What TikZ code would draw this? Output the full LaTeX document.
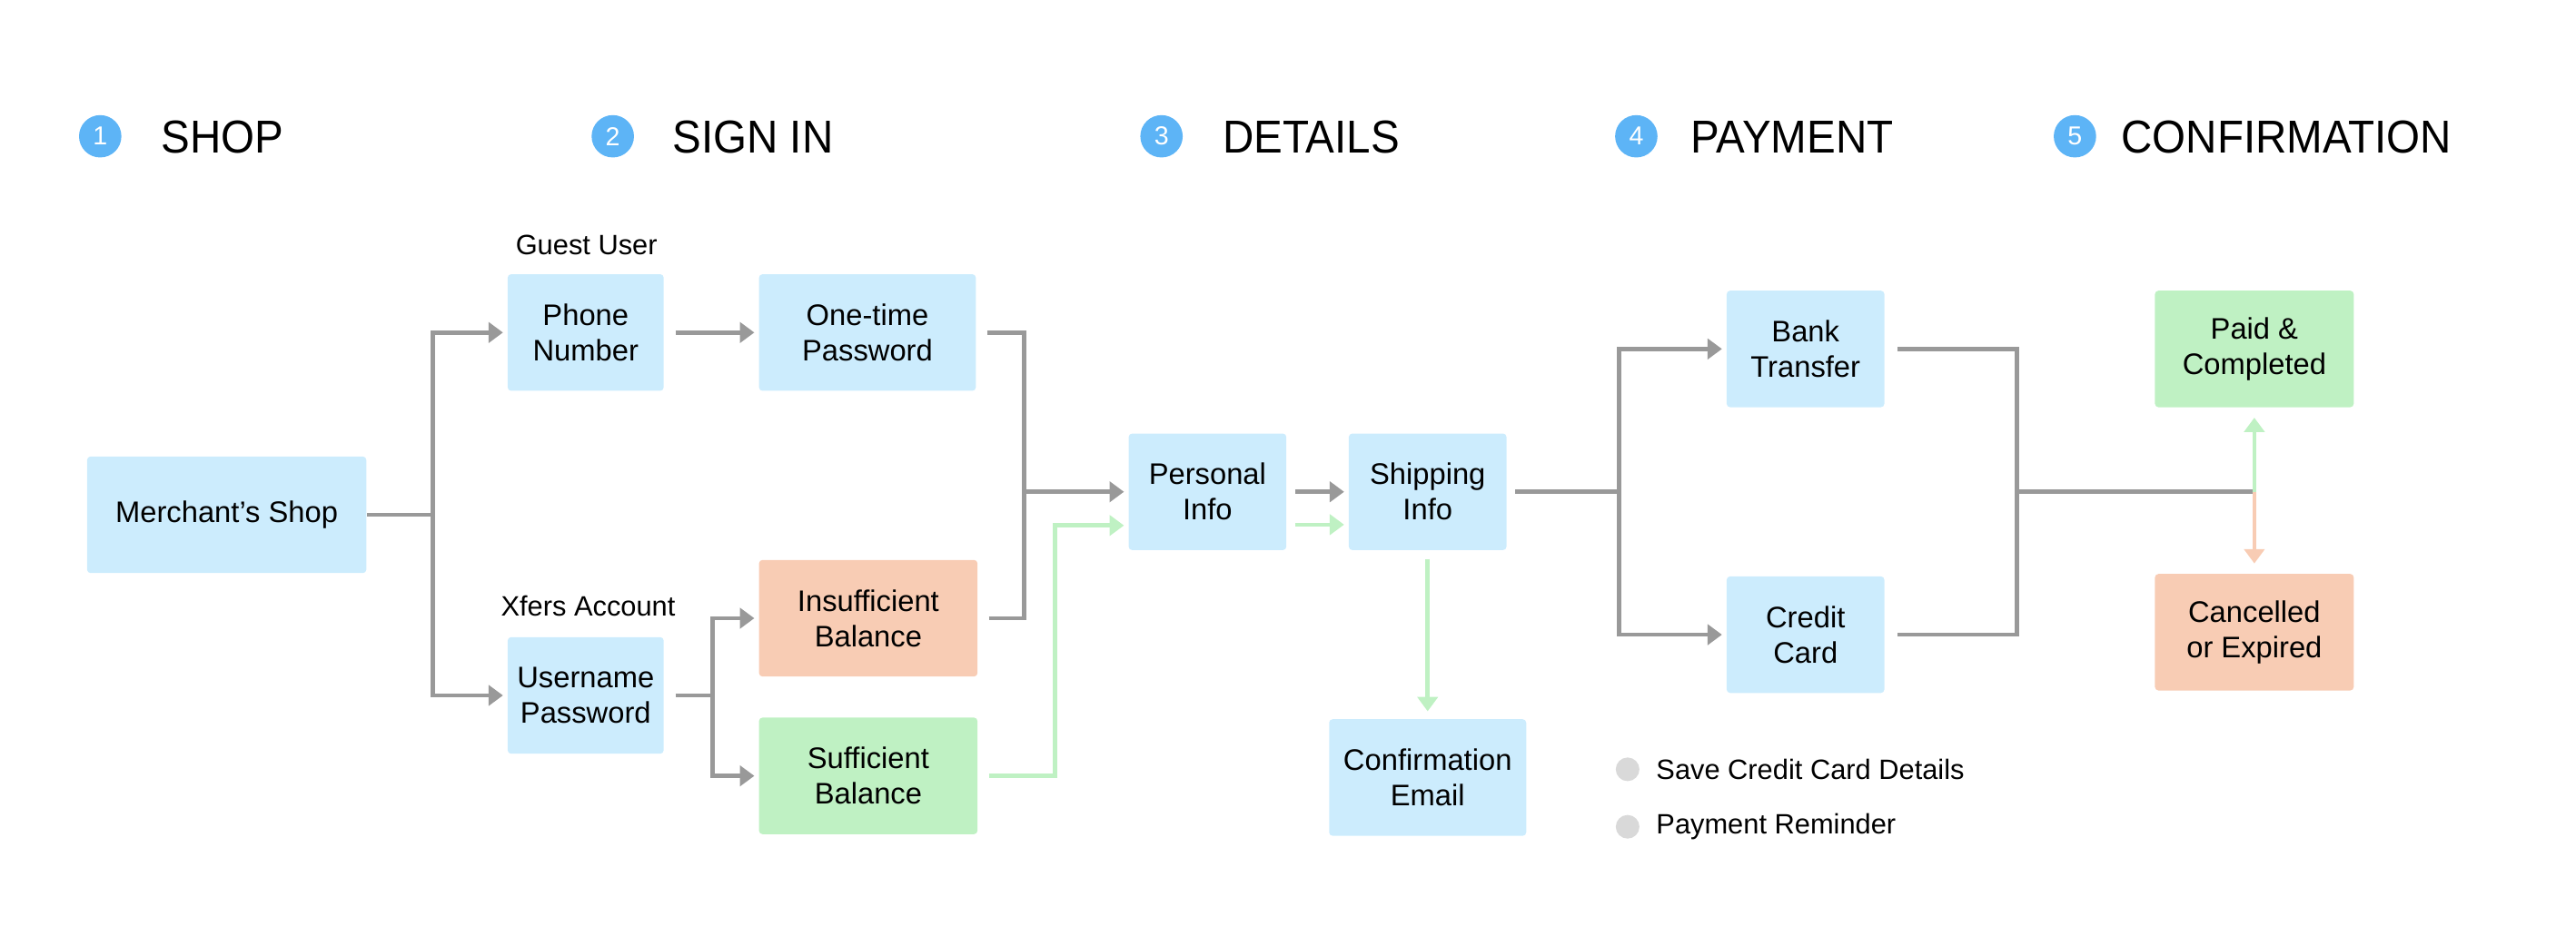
\documentclass[tikz,border=0pt]{standalone}
\usepackage{fontspec}
\setmainfont{Liberation Sans}
\newfontfamily\headfont{Liberation Sans}[FakeStretch=0.935]
\usetikzlibrary{arrows.meta,calc}
\definecolor{boxblue}{HTML}{CCECFD}
\definecolor{peach}{HTML}{F8CCB4}
\definecolor{mint}{HTML}{BFF1C3}
\definecolor{lgray}{HTML}{999999}
\definecolor{circblue}{HTML}{5DB4F6}
\definecolor{dotgray}{HTML}{D9D9D9}
\begin{document}
\begin{tikzpicture}[x=0.02cm,y=-0.02cm,
  box/.style={rectangle, rounded corners=1.2pt, minimum height=1.42cm, inner sep=0pt, align=center, font=\fontsize{10.3}{12.3}\selectfont, text=black},
  bb/.style={box, fill=boxblue},
  pb/.style={box, fill=peach},
  gb/.style={box, fill=mint},
  headtxt/.style={anchor=base west, inner sep=0pt, font=\headfont\fontsize{16}{19}\selectfont},
  numcirc/.style={circle, fill=circblue, minimum size=0.516cm, inner sep=0pt, text=white, font=\fontsize{9}{10}\selectfont},
  lbl/.style={inner sep=0pt, font=\fontsize{9.7}{11.5}\selectfont},
  gline/.style={draw=lgray, line width=1.5pt},
  garrow/.style={gline, -{Triangle[length=5pt,width=7pt]}, shorten >=0.05cm},
  mline/.style={draw=mint, line width=1.5pt},
  marrow/.style={mline, -{Triangle[length=5pt,width=7pt]}, shorten >=0.05cm},
  parrow/.style={draw=peach, line width=1.5pt, -{Triangle[length=5pt,width=7pt]}, shorten >=0.12cm},
  dot/.style={circle, fill=dotgray, minimum size=0.288cm, inner sep=0pt}
]
\useasboundingbox (0,0) rectangle (1568,576);

% headings
\node[numcirc] (c1) at (61,83) {1};
\node[headtxt] (h1) at (98,93.3) {SHOP};
\node[numcirc] (c2) at (373,83) {2};
\node[headtxt] (h2) at (409,93.3) {SIGN IN};
\node[numcirc] (c3) at (707,83) {3};
\node[headtxt] (h3) at (744,93.3) {DETAILS};
\node[numcirc] (c4) at (996,83) {4};
\node[headtxt] (h4) at (1029,93.3) {PAYMENT};
\node[numcirc] (c5) at (1263,83) {5};
\node[headtxt] (h5) at (1291,93.3) {CONFIRMATION};

% boxes
\node[bb, minimum width=3.4cm] (merchant) at (138,313.5) {Merchant’s Shop};
\node[bb, minimum width=1.9cm] (phone) at (356.5,202.5) {Phone\\Number};
\node[bb, minimum width=2.64cm] (otp) at (528,202.5) {One-time\\Password};
\node[bb, minimum width=1.9cm] (user) at (356.5,423.5) {Username\\Password};
\node[pb, minimum width=2.66cm] (insuf) at (528.5,376.5) {Insufficient\\Balance};
\node[gb, minimum width=2.66cm] (suff) at (528.5,472.5) {Sufficient\\Balance};
\node[bb, minimum width=1.92cm] (personal) at (735,299.5) {Personal\\Info};
\node[bb, minimum width=1.92cm] (shipping) at (869,299.5) {Shipping\\Info};
\node[bb, minimum width=2.4cm] (email) at (869,473.5) {Confirmation\\Email};
\node[bb, minimum width=1.92cm] (bank) at (1099,212.5) {Bank\\Transfer};
\node[bb, minimum width=1.92cm] (credit) at (1099,386.5) {Credit\\Card};
\node[gb, minimum width=2.42cm] (paid) at (1372.2,212.5) {Paid \&\\Completed};
\node[pb, minimum width=2.42cm] (cancel) at (1372.2,385) {Cancelled\\or Expired};

% labels
\node[lbl] (guest) at (357,149) {Guest User};
\node[lbl] (xfers) at (358,369) {Xfers Account};

% junctions
\coordinate (j1) at (263.5,313.5);
\coordinate (j2) at (623.5,299.5);
\coordinate (gk) at (642,320);
\coordinate (j3) at (985.4,299.5);
\coordinate (j4) at (1227.7,299.5);
\coordinate (j5) at (1372.2,299.5);
\coordinate (ju) at (433.8,423.5);

% connectors
\draw[gline] (merchant.east) -- (j1);
\draw[garrow] (j1) |- (phone.west);
\draw[garrow] (j1) |- (user.west);
\draw[garrow, shorten <=0.14cm] (phone.east) -- (otp.west);
\draw[gline, shorten <=0.14cm] (user.east) -- (ju);
\draw[garrow] (ju) |- (insuf.west);
\draw[garrow] (ju) |- (suff.west);
\draw[gline, shorten <=0.13cm] (otp.east) -| (j2);
\draw[gline, shorten <=0.13cm] (insuf.east) -| (j2);
\draw[garrow] (j2) -- (personal.west);
\draw[marrow, shorten <=0.13cm] (suff.east) -| (gk) -- (gk -| personal.west);
\draw[garrow, shorten <=0.1cm] (personal.east) -- (shipping.west);
\draw[marrow, shorten <=0.1cm] ([yshift=-0.4cm]personal.east) -- ([yshift=-0.4cm]shipping.west);
\draw[marrow, shorten <=0.1cm, shorten >=0.09cm] (shipping.south) -- (email.north);
\draw[gline, shorten <=0.1cm] (shipping.east) -- (j3);
\draw[garrow] (j3) |- (bank.west);
\draw[garrow] (j3) |- (credit.west);
\draw[gline, shorten <=0.15cm] (bank.east) -| (j4);
\draw[gline, shorten <=0.15cm] (credit.east) -| (j4);
\draw[gline] (j4) -- (j5);
\draw[marrow, shorten >=0.12cm] (j5) -- (paid.south);
\draw[parrow] (j5) -- (cancel.north);

% legend
\node[dot] (d1) at (990.7,468.5) {};
\node[lbl, anchor=west] (l1) at (1007.8,468.5) {Save Credit Card Details};
\node[dot] (d2) at (990.7,503.5) {};
\node[lbl, anchor=west] (l2) at (1007.8,503.5) {Payment Reminder};
\end{tikzpicture}
\end{document}
